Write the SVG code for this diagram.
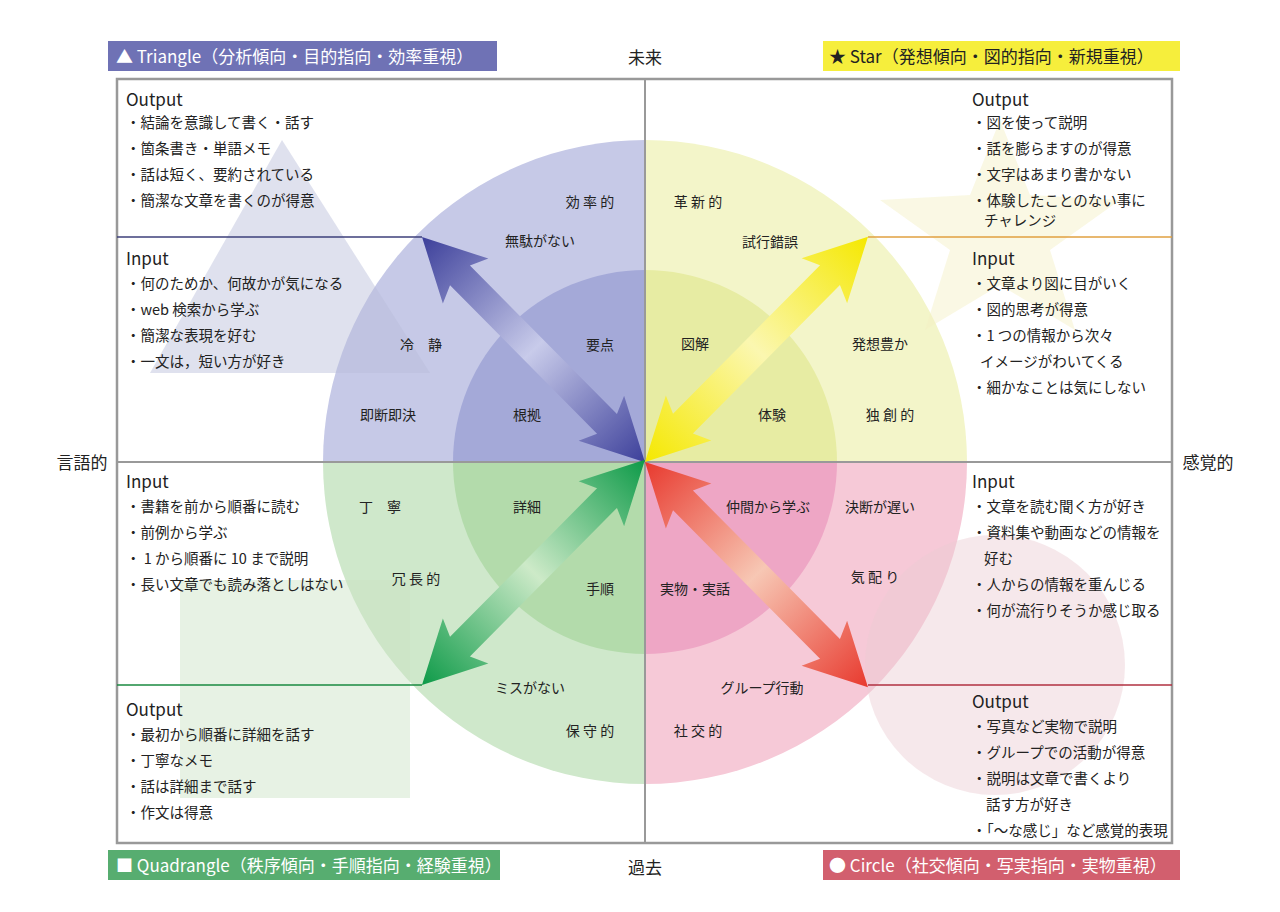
<svg xmlns="http://www.w3.org/2000/svg" width="1280" height="912" viewBox="0 0 1280 912">
<defs>
<style>
text{font-family:"Noto Sans CJK JP","Noto Sans",sans-serif;fill:#222;}
.h{font-size:17px;}
.b{font-size:14.5px;}
.l{font-size:14px;}
.t{font-size:17px;}
.frame{fill:none;stroke:#999;stroke-width:2.5;}
</style>
<linearGradient id="gB" x1="0" x2="1"><stop offset="0" stop-color="#3c3f9a"/><stop offset="0.5" stop-color="#c8cbea"/><stop offset="1" stop-color="#3c3f9a"/></linearGradient>
<linearGradient id="gY" x1="0" x2="1"><stop offset="0" stop-color="#f5e800"/><stop offset="0.5" stop-color="#fbf7b0"/><stop offset="1" stop-color="#f5e800"/></linearGradient>
<linearGradient id="gG" x1="0" x2="1"><stop offset="0" stop-color="#0d9a48"/><stop offset="0.5" stop-color="#cdeac8"/><stop offset="1" stop-color="#0d9a48"/></linearGradient>
<linearGradient id="gR" x1="0" x2="1"><stop offset="0" stop-color="#e8392e"/><stop offset="0.5" stop-color="#f7c7b4"/><stop offset="1" stop-color="#e8392e"/></linearGradient>
<polygon id="arr" points="0,0 62,-32 54,-14 263,-14 255,-32 317,0 255,32 263,14 54,14 62,32"/>
</defs>
<rect width="1280" height="912" fill="#fff"/>
<g id="wheel">
<path d="M645,462 L323,462 A322,322 0 0 1 645,140 Z" fill="#c6c9e7"/>
<path d="M645,462 L645,140 A322,322 0 0 1 967,462 Z" fill="#f3f5c9"/>
<path d="M645,462 L323,462 A322,322 0 0 0 645,784 Z" fill="#cfe8cb"/>
<path d="M645,462 L645,784 A322,322 0 0 0 967,462 Z" fill="#f6c9d7"/>
<path d="M645,462 L453,462 A192,192 0 0 1 645,270 Z" fill="#a4a9d8"/>
<path d="M645,462 L645,270 A192,192 0 0 1 837,462 Z" fill="#e7eca3"/>
<path d="M645,462 L453,462 A192,192 0 0 0 645,654 Z" fill="#b3dbab"/>
<path d="M645,462 L645,654 A192,192 0 0 0 837,462 Z" fill="#eea6c5"/>
</g>
<g id="backdrop" opacity="0.45">
<polygon points="282,140 430,373 150,373" fill="#b9bcd9"/>
<polygon points="1000,120 1030,195 1120,200 1050,250 1075,330 1000,285 925,330 950,250 880,200 970,195" fill="#f3efc4"/>
<rect x="180" y="580" width="230" height="218" fill="#c9e3c3"/>
<circle cx="995" cy="665" r="130" fill="#eccdd2"/>
</g>
<g id="frame">
<rect class="frame" x="117" y="79" width="1055" height="764"/>
<line x1="645" y1="79" x2="645" y2="843" stroke="#999" stroke-width="2"/>
<line x1="117" y1="462" x2="1172" y2="462" stroke="#999" stroke-width="2"/>
<line x1="117" y1="237" x2="422" y2="237" stroke="#3c3f7a" stroke-width="1.5"/>
<line x1="868" y1="237" x2="1172" y2="237" stroke="#e0a040" stroke-width="1.5"/>
<line x1="117" y1="685" x2="422" y2="685" stroke="#1a8a40" stroke-width="1.5"/>
<line x1="868" y1="685" x2="1172" y2="685" stroke="#b03040" stroke-width="1.5"/>
</g>
<g id="connectors">
<use href="#arr" fill="url(#gB)" transform="translate(422,237) rotate(45.3)"/>
<use href="#arr" fill="url(#gY)" transform="translate(645,462) rotate(-45.3)"/>
<use href="#arr" fill="url(#gG)" transform="translate(422,685) rotate(-45.3)"/>
<use href="#arr" fill="url(#gR)" transform="translate(645,462) rotate(45.3)"/>
</g>
<g id="axis-labels">
<text class="t" x="645" y="64" text-anchor="middle">未来</text>
<text class="t" x="645" y="874" text-anchor="middle">過去</text>
<text class="t" x="82" y="469" text-anchor="middle">言語的</text>
<text class="t" x="1208" y="469" text-anchor="middle">感覚的</text>
</g>
<g id="title-triangle"><rect x="108" y="41" width="389" height="30" fill="#6f72b5"/><text x="116" y="63" class="t" style="fill:#fff">▲ Triangle（分析傾向・目的指向・効率重視）</text></g>
<g id="title-star"><rect x="823" y="41" width="357" height="30" fill="#f6ee3c"/><text x="829" y="63" class="t">★ Star（発想傾向・図的指向・新規重視）</text></g>
<g id="title-quad"><rect x="108" y="850" width="392" height="30" fill="#57ad70"/><text x="116" y="872" class="t" style="fill:#fff">■ Quadrangle（秩序傾向・手順指向・経験重視）</text></g>
<g id="title-circle"><rect x="823" y="850" width="357" height="30" fill="#d25f6e"/><text x="829" y="872" class="t" style="fill:#fff">● Circle（社交傾向・写実指向・実物重視）</text></g>
<g id="tl-text">
<text class="h" x="126" y="106">Output</text>
<text class="b" x="126" y="128">・結論を意識して書く・話す</text>
<text class="b" x="126" y="154">・箇条書き・単語メモ</text>
<text class="b" x="126" y="180">・話は短く、要約されている</text>
<text class="b" x="126" y="206">・簡潔な文章を書くのが得意</text>
<text class="h" x="126" y="265">Input</text>
<text class="b" x="126" y="289">・何のためか、何故かが気になる</text>
<text class="b" x="126" y="315">・web 検索から学ぶ</text>
<text class="b" x="126" y="341">・簡潔な表現を好む</text>
<text class="b" x="126" y="367">・一文は，短い方が好き</text>
</g>
<g id="tr-text">
<text class="h" x="972" y="106">Output</text>
<text class="b" x="972" y="128">・図を使って説明</text>
<text class="b" x="972" y="154">・話を膨らますのが得意</text>
<text class="b" x="972" y="180">・文字はあまり書かない</text>
<text class="b" x="972" y="206">・体験したことのない事に</text>
<text class="b" x="984" y="226">チャレンジ</text>
<text class="h" x="972" y="265">Input</text>
<text class="b" x="972" y="289">・文章より図に目がいく</text>
<text class="b" x="972" y="315">・図的思考が得意</text>
<text class="b" x="972" y="341">・1 つの情報から次々</text>
<text class="b" x="980" y="367">イメージがわいてくる</text>
<text class="b" x="972" y="393">・細かなことは気にしない</text>
</g>
<g id="bl-text">
<text class="h" x="126" y="488">Input</text>
<text class="b" x="126" y="512">・書籍を前から順番に読む</text>
<text class="b" x="126" y="538">・前例から学ぶ</text>
<text class="b" x="126" y="564">・ 1 から順番に 10 まで説明</text>
<text class="b" x="126" y="590">・長い文章でも読み落としはない</text>
<text class="h" x="126" y="716">Output</text>
<text class="b" x="126" y="740">・最初から順番に詳細を話す</text>
<text class="b" x="126" y="766">・丁寧なメモ</text>
<text class="b" x="126" y="792">・話は詳細まで話す</text>
<text class="b" x="126" y="818">・作文は得意</text>
</g>
<g id="br-text">
<text class="h" x="972" y="488">Input</text>
<text class="b" x="972" y="512">・文章を読む聞く方が好き</text>
<text class="b" x="972" y="538">・資料集や動画などの情報を</text>
<text class="b" x="984" y="564">好む</text>
<text class="b" x="972" y="590">・人からの情報を重んじる</text>
<text class="b" x="972" y="616">・何が流行りそうか感じ取る</text>
<text class="h" x="972" y="708">Output</text>
<text class="b" x="972" y="732">・写真など実物で説明</text>
<text class="b" x="972" y="758">・グループでの活動が得意</text>
<text class="b" x="972" y="784">・説明は文章で書くより</text>
<text class="b" x="986" y="810">話す方が好き</text>
<text class="b" x="972" y="836">・「〜な感じ」など感覚的表現</text>
</g>
<g id="wheel-labels" text-anchor="middle">
<text class="l" x="590" y="207">効 率 的</text>
<text class="l" x="540" y="246">無駄がない</text>
<text class="l" x="421" y="350">冷　静</text>
<text class="l" x="600" y="350">要点</text>
<text class="l" x="388" y="420">即断即決</text>
<text class="l" x="527" y="420">根拠</text>
<text class="l" x="698" y="207">革 新 的</text>
<text class="l" x="770" y="247">試行錯誤</text>
<text class="l" x="695" y="349">図解</text>
<text class="l" x="880" y="349">発想豊か</text>
<text class="l" x="772" y="420">体験</text>
<text class="l" x="890" y="420">独 創 的</text>
<text class="l" x="380" y="512">丁　寧</text>
<text class="l" x="527" y="512">詳細</text>
<text class="l" x="768" y="512">仲間から学ぶ</text>
<text class="l" x="880" y="512">決断が遅い</text>
<text class="l" x="416" y="584">冗 長 的</text>
<text class="l" x="600" y="594">手順</text>
<text class="l" x="695" y="594">実物・実話</text>
<text class="l" x="875" y="582">気 配 り</text>
<text class="l" x="530" y="693">ミスがない</text>
<text class="l" x="762" y="693">グループ行動</text>
<text class="l" x="590" y="736">保 守 的</text>
<text class="l" x="698" y="736">社 交 的</text>
</g>
</svg>
